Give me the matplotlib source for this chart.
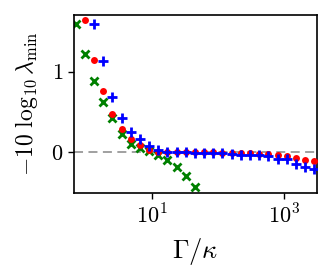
import matplotlib
matplotlib.use("Agg")
import matplotlib.pyplot as plt

plt.rcParams["mathtext.fontset"] = "cm"
plt.rcParams["font.family"] = "serif"
plt.rcParams["font.serif"] = ["cmr10", "DejaVu Serif"]
plt.rcParams["axes.formatter.use_mathtext"] = True
plt.rcParams["axes.unicode_minus"] = False

# Gamma/kappa sample points (log-spaced grid)
gamma_kappa = [0.715, 0.984, 1.35, 1.86, 2.56, 3.52, 4.84, 6.66, 9.16, 12.6,
               17.3, 23.8, 32.8, 45.1, 62.0, 85.3, 117, 161, 222, 305,
               420, 578, 795, 1094, 1505, 2070, 2848]

# -10 log10 lambda_min for each series (None = not drawn / off-axis)
green_vals = [1.585, 1.215, 0.889, 0.63, 0.428, 0.231, 0.107, 0.05, 0.013, -0.028,
              -0.094, -0.177, -0.288, -0.432]
red_vals = [None, 1.638, 1.148, 0.762, 0.482, 0.296, 0.173, 0.091, 0.037, 0.012,
            0.008, 0.004, 0.002, 0.0, 0.0, 0.0, -0.002, -0.004, -0.008, -0.012,
            -0.016, -0.02, -0.037, -0.049, -0.062, -0.09, -0.111]
blue_vals = [None, None, 1.585, 1.128, 0.691, 0.428, 0.251, 0.165, 0.079, 0.037,
             0.012, 0.004, 0.0, -0.002, -0.004, -0.008, -0.01, -0.016, -0.025, -0.037,
             -0.037, -0.045, -0.078, -0.086, -0.14, -0.185, -0.2]


def pairs(vals):
    xs = [x for x, v in zip(gamma_kappa, vals) if v is not None]
    ys = [v for v in vals if v is not None]
    return xs, ys


fig = plt.figure(figsize=(3.33, 2.78), dpi=100)
ax = fig.add_axes([0.222, 0.306, 0.729, 0.640])

ax.axhline(0, color="#999999", linestyle="--", linewidth=1.3, dashes=(5, 3), zorder=1)

gx, gy = pairs(green_vals)
ax.plot(gx, gy, linestyle="none", marker="x", color="green", markersize=5.5, mew=2, zorder=2)
rx, ry = pairs(red_vals)
ax.plot(rx, ry, linestyle="none", marker="o", color="red", markersize=5, mew=0, zorder=3)
bx, by = pairs(blue_vals)
ax.plot(bx, by, linestyle="none", marker="+", color="blue", markersize=6.5, mew=2, zorder=4)

ax.set_xscale("log")
ax.set_xlim(0.673, 3085)
ax.set_ylim(-0.5, 1.70)
ax.set_xticks([10, 1000])
ax.set_xticklabels([r"$10^1$", r"$10^3$"])
ax.xaxis.set_minor_locator(matplotlib.ticker.NullLocator())
ax.set_yticks([0, 1])
ax.set_yticklabels([r"$0$", r"$1$"])
ax.tick_params(labelsize=16, length=4, width=1)

for sp in ax.spines.values():
    sp.set_linewidth(1.2)

ax.set_xlabel(r"$\Gamma/\kappa$", fontsize=19, labelpad=6)
ax.set_ylabel(r"$-10\ \log_{10}\lambda_{\min}$", fontsize=17, labelpad=8)

fig.savefig("out.png", dpi=100)
